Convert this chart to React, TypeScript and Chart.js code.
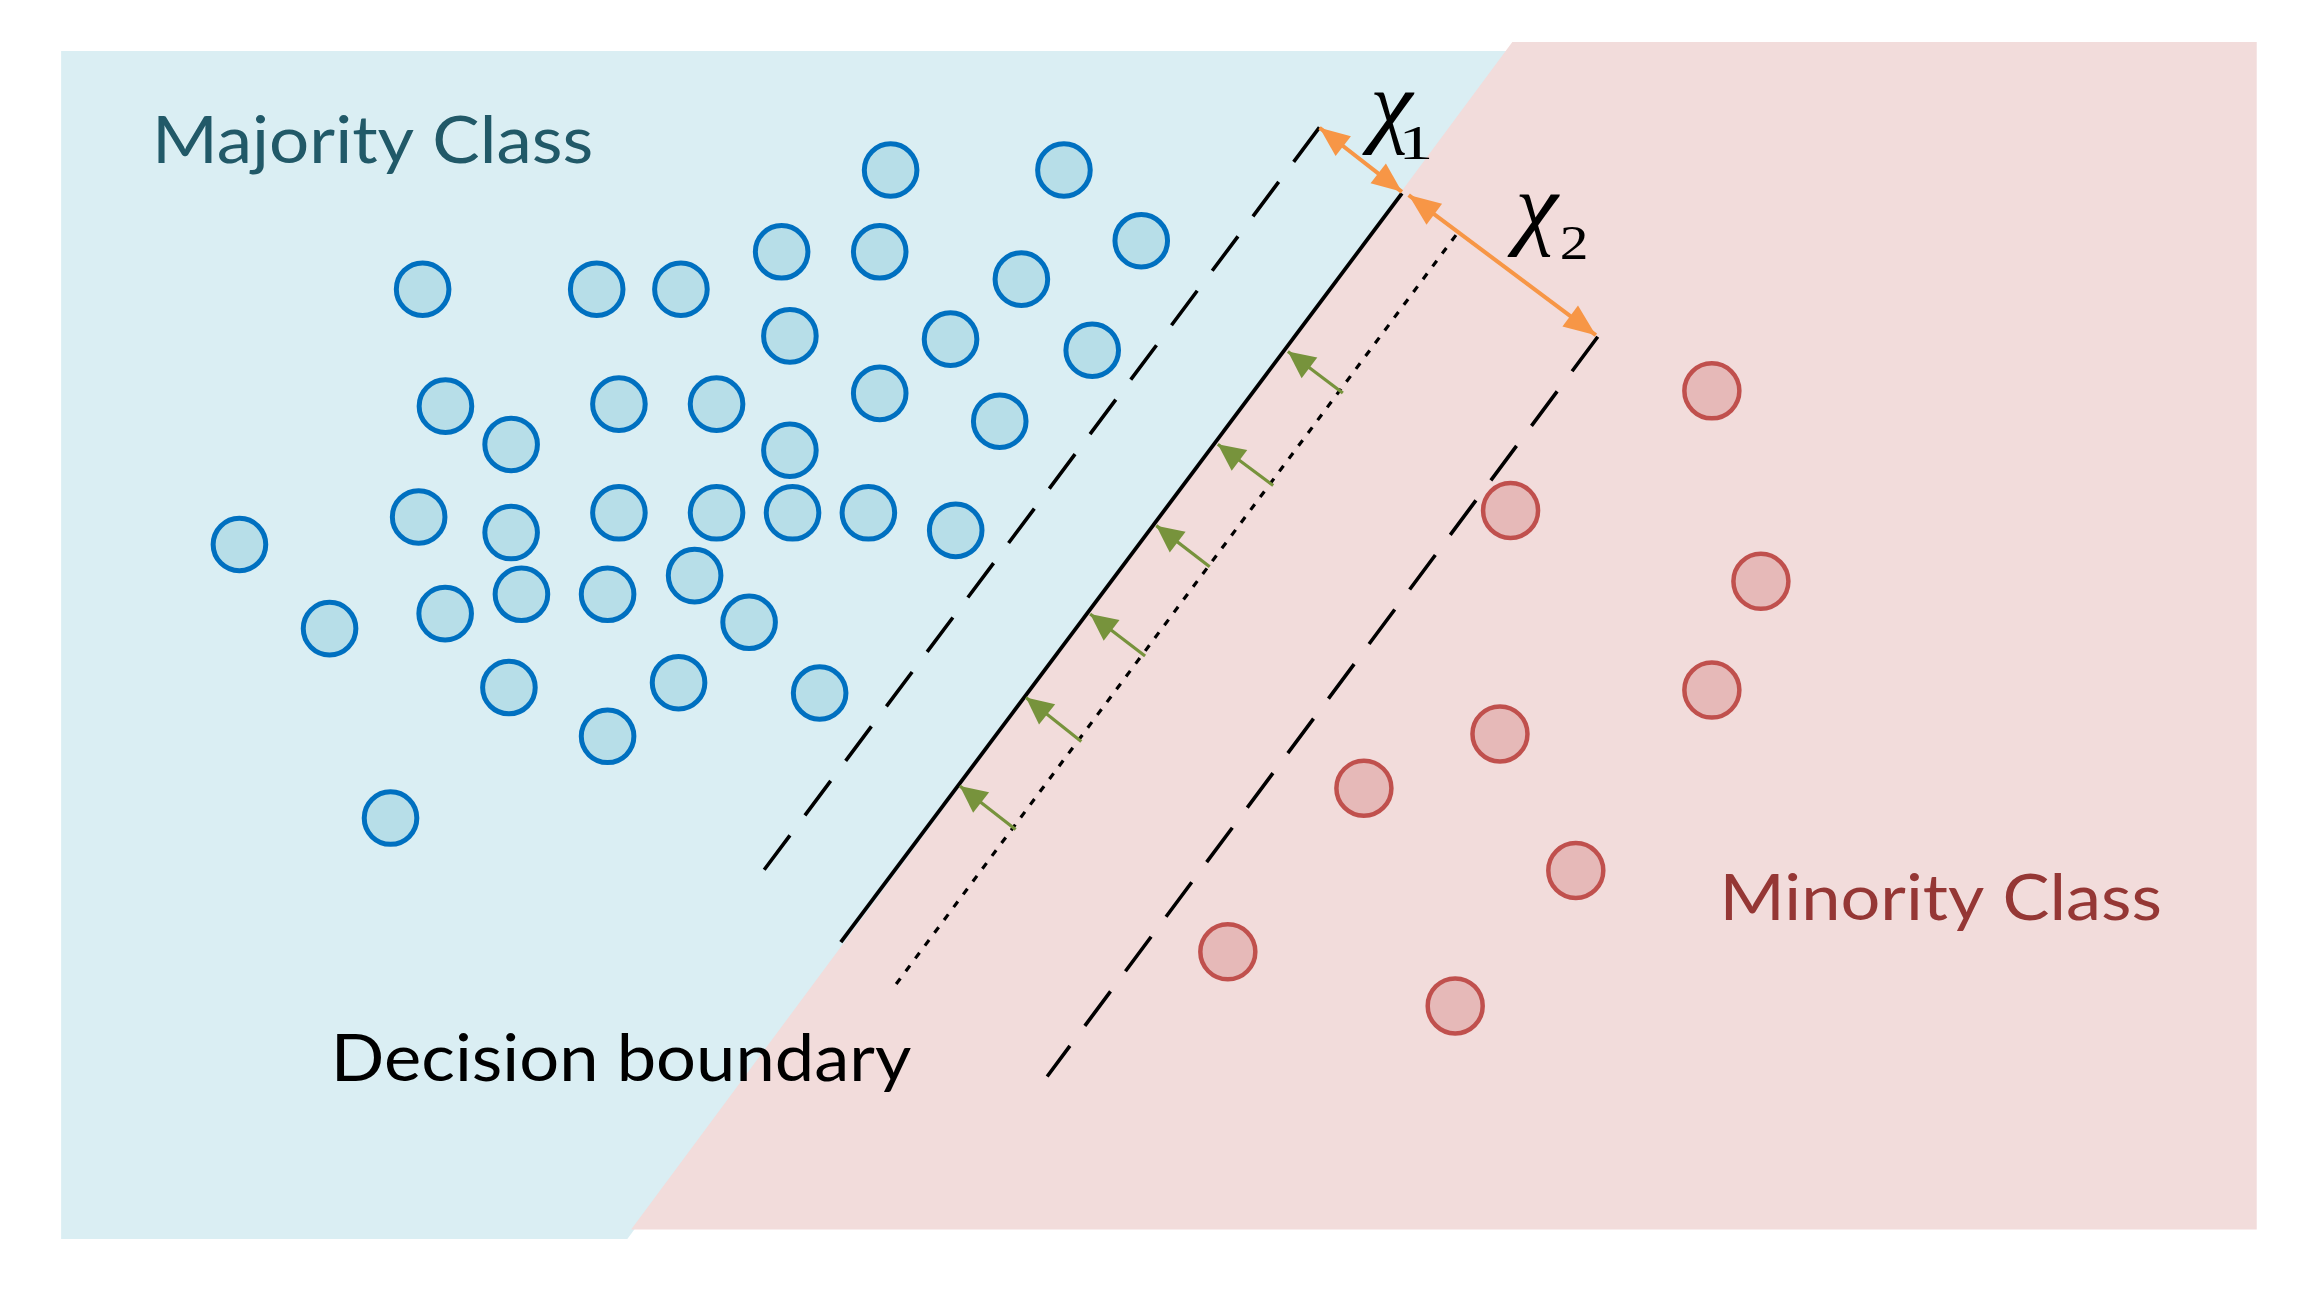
import React, { useEffect, useRef } from "react";
import { Chart, registerables } from "chart.js";

Chart.register(...registerables);

// ---------- data (in reference units, 1568 x 877 frame, y downward) ----------
const blueX = [604.8, 722.5, 775, 530.8, 597.4, 693.6, 287, 405.2, 462.4, 536.4, 645.5, 741.7, 302.5, 420.3, 486.6, 597.4, 678.9, 347.1, 536.4, 284.3, 347.1, 420.3, 486.6, 538.2, 589.7, 649, 162.6, 223.8, 302.3, 354.1, 412.6, 471.7, 508.7, 345.6, 460.8, 556.6, 412.6, 265.2];
const blueY = [115.4, 115.4, 163.4, 170.9, 170.9, 189.5, 196.3, 196.3, 196.3, 228, 230.2, 237.7, 275.7, 274.3, 274.3, 267, 285.9, 301.7, 305.6, 350.9, 361.5, 348.1, 348.1, 348.1, 348.1, 360, 369.6, 426.7, 416.5, 403.4, 403.4, 390.7, 422.4, 466.7, 463.4, 470.4, 499.8, 555.3];

const redX = [1162.5, 1025.8, 1195.8, 1162.5, 1018.6, 926.2, 1070.1, 833.8, 988.2];
const redY = [265.3, 346.5, 394.6, 468.4, 498.2, 535, 590.9, 646.1, 682.8];

const majorityRegionX = [41.5, 1025, 426, 41.5, 41.5];
const majorityRegionY = [34.6, 34.6, 841, 841, 34.6];
const minorityRegionX = [1027, 1532.5, 1532.5, 428.6, 1027];
const minorityRegionY = [28.5, 28.5, 834.6, 834.6, 28.5];

const boundaryX = [952, 571];
const boundaryY = [131.3, 639.5];
const marginLeftX = [896, 514];
const marginLeftY = [86.5, 597];
const shiftedX = [988.7, 607.8];
const shiftedY = [159.6, 669];
const marginRightX = [1085, 711.1];
const marginRightY = [228.6, 730.7];

const chi1X = [896.1, 952];
const chi1Y = [86.7, 130.2];
const chi2X = [956.6, 1083.7];
const chi2Y = [132.4, 227.5];

const shiftTailX = [911.9, 864.6, 821.5, 777.6, 734.3, 689.7];
const shiftTailY = [266.8, 329.6, 384.7, 445.3, 503.3, 563];
const shiftTipX = [874.6, 827, 785.2, 740.3, 696.7, 651.8];
const shiftTipY = [238.6, 301.6, 356.8, 416.8, 473.5, 533.5];

const labelTexts = ["Majority Class", "Minority Class", "Decision boundary"];
const chiTexts = ["χ", "1", "χ", "2"];

// ---------- layout / style ----------
const W = 2309;
const H = 1292;
const X_MAX = 1568;
const Y_MAX = 877;

const labelLayout = [
  { left: 107.6, base: 110.9, width: 294, cap: 32.8, color: "#215968" },
  { left: 1171.4, base: 624.3, width: 295.4, cap: 31.8, color: "#953735" },
  { left: 229, base: 734, width: 389.6, cap: 33, color: "#000000" },
];
const chiLayout = [
  { x0: 924.5, x1: 961.2, y0: 63, y1: 105, font: "italic 100px 'Liberation Serif'" },
  { x0: 953.5, x1: 970.5, y0: 86, y1: 108, font: "100px 'Liberation Serif'" },
  { x0: 1023, x1: 1059.8, y0: 132.4, y1: 174.3, font: "italic 100px 'Liberation Serif'" },
  { x0: 1060.7, x1: 1076.7, y0: 154, y1: 176, font: "100px 'Liberation Serif'" },
];

const pts = (xs: number[], ys: number[]) => xs.map((x, i) => ({ x, y: ys[i] }));

const arrowPlugin = {
  id: "arrowHeads",
  afterDatasetsDraw(chart: any) {
    const ctx = chart.ctx;
    chart.data.datasets.forEach((ds: any, i: number) => {
      if (!ds.arrowHeads) return;
      const els = chart.getDatasetMeta(i).data;
      if (els.length < 2) return;
      const heads: [any, any][] = [[els[els.length - 2], els[els.length - 1]]];
      if (ds.arrowHeads === "both") heads.push([els[1], els[0]]);
      const L = ds.headLength;
      const Wd = ds.headWidth;
      for (const [from, tip] of heads) {
        const dx = tip.x - from.x;
        const dy = tip.y - from.y;
        const len = Math.hypot(dx, dy) || 1;
        const ux = dx / len;
        const uy = dy / len;
        const bx = tip.x - ux * L;
        const by = tip.y - uy * L;
        ctx.save();
        ctx.fillStyle = ds.borderColor;
        ctx.beginPath();
        ctx.moveTo(tip.x, tip.y);
        ctx.lineTo(bx - uy * Wd / 2, by + ux * Wd / 2);
        ctx.lineTo(bx + uy * Wd / 2, by - ux * Wd / 2);
        ctx.closePath();
        ctx.fill();
        ctx.restore();
      }
    });
  },
};

const textPlugin = {
  id: "diagramText",
  afterDatasetsDraw(chart: any) {
    const { ctx } = chart;
    const sx = chart.scales.x;
    const sy = chart.scales.y;
    const px = (v: number) => sx.getPixelForValue(v);
    const py = (v: number) => sy.getPixelForValue(v);
    const ux = Math.abs(px(1) - px(0));
    const uy = Math.abs(py(1) - py(0));
    const family = "Lato, 'Open Sans', sans-serif";

    labelTexts.forEach((text, i) => {
      const lay = labelLayout[i];
      ctx.save();
      ctx.font = `100px ${family}`;
      const capR = ctx.measureText("H").actualBoundingBoxAscent / 100;
      const size = (lay.cap * uy) / capR;
      ctx.font = `${size}px ${family}`;
      const m = ctx.measureText(text);
      const inkW = m.actualBoundingBoxLeft + m.actualBoundingBoxRight;
      const scaleX = (lay.width * ux) / inkW;
      ctx.translate(px(lay.left), py(lay.base));
      ctx.scale(scaleX, 1);
      ctx.fillStyle = lay.color;
      ctx.textAlign = "left";
      ctx.textBaseline = "alphabetic";
      ctx.fillText(text, m.actualBoundingBoxLeft, 0);
      ctx.restore();
    });

    chiTexts.forEach((text, i) => {
      const lay = chiLayout[i];
      ctx.save();
      ctx.font = lay.font;
      ctx.textAlign = "left";
      ctx.textBaseline = "alphabetic";
      const m = ctx.measureText(text);
      const inkW = m.actualBoundingBoxLeft + m.actualBoundingBoxRight;
      const inkH = m.actualBoundingBoxAscent + m.actualBoundingBoxDescent;
      const kx = ((lay.x1 - lay.x0) * ux) / inkW;
      const ky = ((lay.y1 - lay.y0) * uy) / inkH;
      ctx.translate(px(lay.x0), py(lay.y0));
      ctx.scale(kx, ky);
      ctx.fillStyle = "#000000";
      ctx.fillText(text, m.actualBoundingBoxLeft, m.actualBoundingBoxAscent);
      ctx.restore();
    });
  },
};

export default function App() {
  const ref = useRef<HTMLCanvasElement | null>(null);

  useEffect(() => {
    document.body.style.margin = "0";
    const canvas = ref.current;
    if (!canvas) return;

    const lineBase = { type: "line", pointRadius: 0, tension: 0, fill: false, showLine: true };

    const datasets: any[] = [
      {
        ...lineBase,
        data: pts(majorityRegionX, majorityRegionY),
        fill: "shape",
        backgroundColor: "#DAEEF3",
        borderColor: "rgba(0,0,0,0)",
        borderWidth: 0,
        order: 100,
      },
      {
        ...lineBase,
        data: pts(minorityRegionX, minorityRegionY),
        fill: "shape",
        backgroundColor: "#F2DCDB",
        borderColor: "rgba(0,0,0,0)",
        borderWidth: 0,
        order: 90,
      },
      {
        ...lineBase,
        data: pts(marginLeftX, marginLeftY),
        borderColor: "#000000",
        borderWidth: 3.6,
        borderDash: [43, 25],
        order: 50,
      },
      {
        ...lineBase,
        data: pts(marginRightX, marginRightY),
        borderColor: "#000000",
        borderWidth: 3.6,
        borderDash: [43, 25],
        order: 50,
      },
      {
        ...lineBase,
        data: pts(shiftedX, shiftedY),
        borderColor: "#000000",
        borderWidth: 3.2,
        borderDash: [7, 9],
        order: 50,
      },
      {
        ...lineBase,
        data: pts(boundaryX, boundaryY),
        borderColor: "#000000",
        borderWidth: 3.8,
        order: 50,
      },
      {
        ...lineBase,
        data: pts(chi1X, chi1Y),
        borderColor: "#F79646",
        borderWidth: 4,
        arrowHeads: "both",
        headLength: 30,
        headWidth: 25,
        order: 40,
      },
      {
        ...lineBase,
        data: pts(chi2X, chi2Y),
        borderColor: "#F79646",
        borderWidth: 4,
        arrowHeads: "both",
        headLength: 32,
        headWidth: 26,
        order: 40,
      },
      ...shiftTailX.map((tx, i) => ({
        ...lineBase,
        data: [
          { x: tx, y: shiftTailY[i] },
          { x: shiftTipX[i], y: shiftTipY[i] },
        ],
        borderColor: "#77933C",
        borderWidth: 3.2,
        arrowHeads: "end",
        headLength: 27,
        headWidth: 26,
        order: 40,
      })),
      {
        type: "scatter",
        data: pts(blueX, blueY),
        pointStyle: "circle",
        pointRadius: 26.3,
        borderWidth: 5,
        pointBorderWidth: 5,
        backgroundColor: "#B7DEE8",
        borderColor: "#0070C0",
        order: 10,
      },
      {
        type: "scatter",
        data: pts(redX, redY),
        pointStyle: "circle",
        pointRadius: 27.5,
        borderWidth: 4.5,
        pointBorderWidth: 4.5,
        backgroundColor: "#E6B9B8",
        borderColor: "#C0504D",
        order: 10,
      },
    ];

    const chart = new Chart(canvas, {
      type: "scatter",
      data: { datasets },
      options: {
        responsive: false,
        maintainAspectRatio: false,
        animation: false,
        events: [],
        layout: { padding: 0, autoPadding: false },
        plugins: {
          legend: { display: false },
          tooltip: { enabled: false },
          title: { display: false },
        },
        scales: {
          x: { type: "linear", min: 0, max: X_MAX, display: false },
          y: { type: "linear", min: 0, max: Y_MAX, reverse: true, display: false },
        },
      },
      plugins: [arrowPlugin, textPlugin],
    } as any);

    return () => chart.destroy();
  }, []);

  return (
    <div style={{ width: W, height: H, background: "#ffffff" }}>
      <canvas ref={ref} width={W} height={H} style={{ display: "block", width: W, height: H }} />
    </div>
  );
}
